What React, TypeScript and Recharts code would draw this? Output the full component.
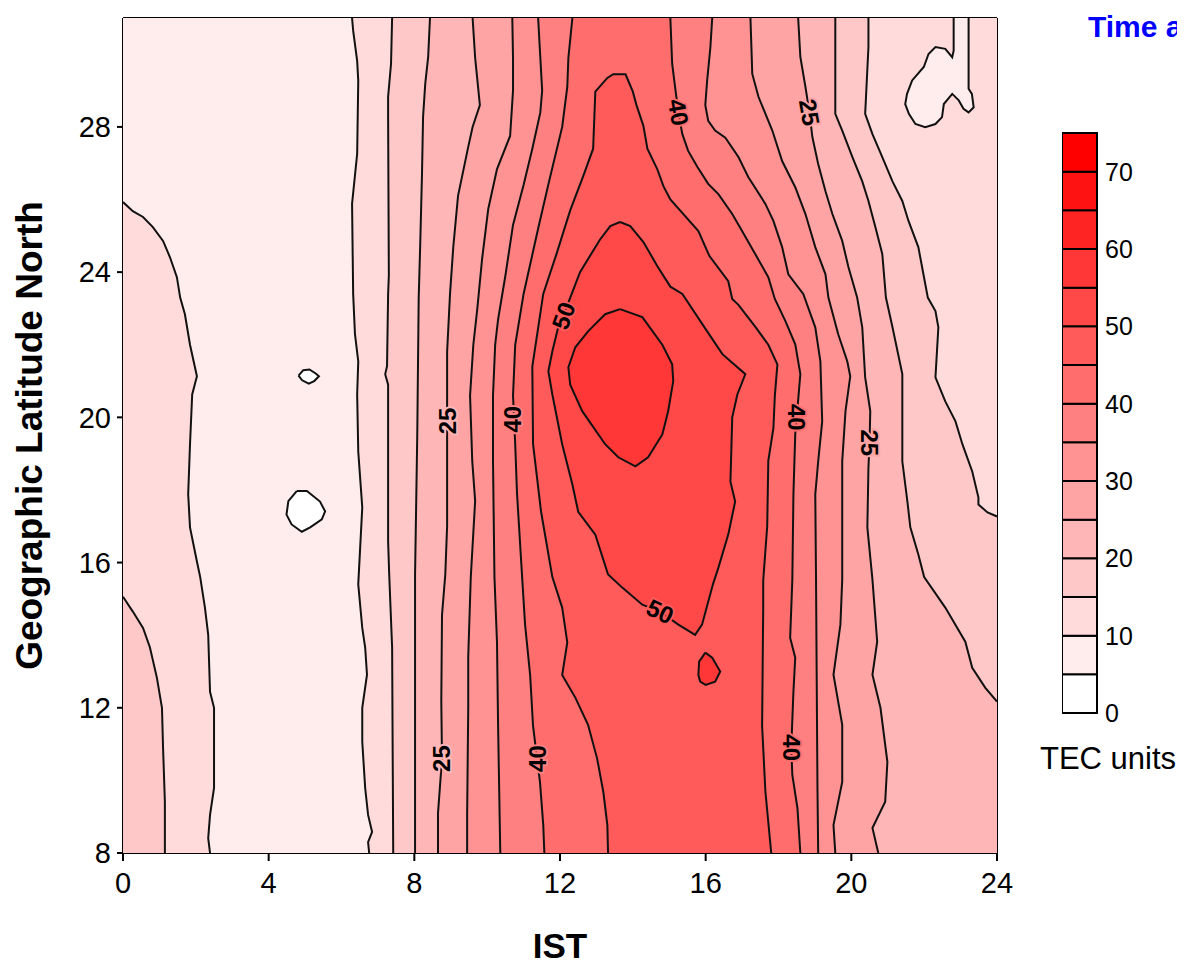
import { Bar, BarChart, ComposedChart, Scatter, XAxis, YAxis } from "recharts"

type Pt = [number, number]

const FONT = '"Liberation Sans", Arial, sans-serif'

// fill colour of each 5 TEC unit band, 0-5 up to 70-75
const bandColors = [
  "#FFFFFF", "#FFEDED", "#FFDBDB", "#FFC8C8", "#FFB6B6", "#FFA4A4", "#FF9292", "#FF8080",
  "#FF6D6D", "#FF5B5B", "#FF4949", "#FF3737", "#FF2424", "#FF1212", "#FF0000",
]
const bandEdges = [0, 5, 10, 15, 20, 25, 30, 35, 40, 45, 50, 55, 60, 65, 70, 75]
const colorbarTicks = [0, 10, 20, 30, 40, 50, 60, 70]

const xTicks = [0, 4, 8, 12, 16, 20, 24]
const topTicks = [0, 2, 4, 6, 8, 10, 12, 14, 16, 18, 20, 22, 24]
const yTicks = [8, 12, 16, 20, 24, 28]
const rightTicks = [8, 10, 12, 14, 16, 18, 20, 22, 24, 26, 28, 30]

// contour lines, [IST hour, latitude]
const c10Left: Pt[] = [[0, 25.93], [0.27, 25.68], [0.55, 25.52], [0.82, 25.24], [1.1, 24.86], [1.29, 24.41], [1.48, 23.86], [1.57, 23.3], [1.7, 22.84], [1.84, 22.0], [2.03, 21.13], [1.9, 20.63], [1.84, 19.26], [1.79, 17.88], [1.84, 16.97], [2.03, 16.03], [2.12, 15.6], [2.25, 14.76], [2.34, 14.01], [2.39, 12.44], [2.5, 12.0], [2.5, 9.79], [2.39, 9.05], [2.34, 8.41], [2.39, 8]]
const c15Left: Pt[] = [[0, 15.06], [0.27, 14.65], [0.55, 14.2], [0.74, 13.66], [0.93, 12.83], [1.07, 12.0], [1.1, 10.9], [1.15, 9.41], [1.15, 8]]
const c10Mid: Pt[] = [[6.76, 8], [6.73, 8.3], [6.84, 8.58], [6.73, 9.05], [6.65, 9.79], [6.57, 11.06], [6.57, 12.0], [6.7, 12.91], [6.65, 13.66], [6.57, 14.2], [6.46, 15.4], [6.57, 17.52], [6.46, 19.06], [6.43, 20.63], [6.46, 21.54], [6.37, 22.29], [6.32, 23.4], [6.29, 25.88], [6.43, 27.26], [6.46, 29.27], [6.43, 29.82], [6.32, 30.65], [6.29, 31]]
const c15Mid: Pt[] = [[7.42, 8], [7.39, 13.66], [7.31, 15.67], [7.28, 16.58], [7.28, 20.9], [7.2, 21.19], [7.25, 21.41], [7.28, 23.4], [7.3, 23.9], [7.28, 28.28], [7.28, 28.83], [7.36, 29.74], [7.39, 31]]
const c20Mid: Pt[] = [[8.02, 8], [8.02, 15.67], [8.08, 19.5], [8.12, 23.3], [8.16, 24.7], [8.21, 26.7], [8.24, 28.28], [8.3, 29.19], [8.38, 29.93], [8.43, 31]]
const c25Left: Pt[] = [[8.65, 8], [8.65, 9.1], [8.76, 10.6], [8.74, 12.17], [8.76, 14.56], [8.85, 15.67], [8.9, 17.0], [8.9, 19.06], [8.9, 21.8], [8.98, 23.4], [9.07, 24.7], [9.2, 26.1], [9.48, 27.45], [9.6, 28.0], [9.8, 28.6], [9.67, 29.9], [9.6, 31]]
const c30Left: Pt[] = [[9.45, 8], [9.45, 9.05], [9.48, 12.0], [9.48, 13.4], [9.55, 15.6], [9.67, 17.7], [9.59, 18.8], [9.53, 20.6], [9.62, 22.0], [9.73, 23.0], [9.86, 24.36], [10.03, 25.74], [10.27, 26.84], [10.63, 27.75], [10.71, 29.0], [10.71, 29.9], [10.69, 31]]
const c35Left: Pt[] = [[10.36, 8], [10.3, 11.5], [10.27, 13.8], [10.2, 15.6], [10.16, 18.8], [10.16, 20.6], [10.22, 22.0], [10.3, 22.7], [10.5, 23.9], [10.71, 25.3], [11.0, 26.4], [11.24, 27.4], [11.46, 28.4], [11.51, 29.0], [11.46, 29.9], [11.4, 31]]
const c40Left: Pt[] = [[11.57, 8], [11.54, 8.77], [11.45, 9.96], [11.37, 10.6], [11.26, 11.5], [11.18, 12.9], [11.04, 14.3], [10.96, 15.6], [10.82, 17.9], [10.77, 19.26], [10.71, 20.6], [10.77, 22.0], [11.0, 23.4], [11.4, 25.2], [11.7, 26.5], [12.06, 28.0], [12.2, 29.1], [12.23, 29.9], [12.34, 31]]
const c45: Pt[] = [[13.32, 8], [13.3, 8.77], [13.19, 9.68], [13.02, 10.6], [12.77, 11.53], [12.42, 12.28], [12.06, 12.9], [12.2, 13.8], [12.06, 14.76], [11.79, 15.6], [11.48, 17.4], [11.26, 19.26], [11.24, 21.4], [11.54, 23.4], [11.92, 24.55], [12.28, 25.7], [12.64, 26.65], [12.91, 27.4], [12.97, 28.97], [13.3, 29.35], [13.46, 29.45], [13.8, 29.45], [14.0, 28.97], [14.1, 28.6], [14.29, 28.03], [14.4, 27.4], [14.67, 26.84], [14.84, 26.37], [15.03, 26.0], [15.8, 25.13], [16.1, 24.45], [16.62, 23.75], [16.73, 23.26], [16.9, 23.1], [17.36, 22.5], [17.72, 22.0], [17.97, 21.46], [17.9, 20.6], [17.86, 19.7], [17.72, 18.8], [17.69, 17.0], [17.58, 15.5], [17.58, 14.76], [17.55, 11.5], [17.64, 9.7], [17.8, 8]]
const c50: Pt[] = [[13.65, 25.38], [13.38, 25.27], [13.1, 24.9], [12.55, 24.0], [12.34, 23.45], [12.09, 22.8], [11.95, 22.48], [11.79, 21.82], [11.68, 21.27], [11.79, 20.63], [12.06, 19.26], [12.34, 18.15], [12.5, 17.4], [12.97, 16.77], [13.32, 15.67], [13.71, 15.31], [14.26, 14.84], [14.75, 14.65], [15.25, 14.29], [15.71, 14.01], [15.9, 14.29], [16.2, 15.4], [16.35, 15.86], [16.62, 16.77], [16.81, 17.68], [16.68, 18.23], [16.73, 20.0], [16.87, 20.63], [17.09, 21.19], [16.46, 21.74], [16.0, 22.43], [15.36, 23.4], [15.03, 23.6], [14.67, 24.17], [14.29, 24.83], [13.93, 25.27]]
const c55: Pt[] = [[13.65, 22.98], [14.26, 22.76], [14.81, 22.0], [15.08, 21.46], [15.11, 21.0], [14.97, 20.17], [14.81, 19.53], [14.42, 18.9], [14.07, 18.65], [13.6, 18.9], [13.24, 19.26], [12.61, 20.17], [12.28, 20.9], [12.23, 21.38], [12.42, 21.93], [12.77, 22.37], [13.24, 22.84]]
const c55Small: Pt[] = [[15.99, 13.52], [16.18, 13.38], [16.4, 13.0], [16.26, 12.72], [16.0, 12.63], [15.85, 12.72], [15.8, 12.9], [15.82, 13.27]]
const c40Right: Pt[] = [[15.03, 31], [15.08, 29.74], [15.16, 29.1], [15.25, 28.4], [15.36, 27.8], [15.52, 27.34], [15.77, 26.9], [16.07, 26.43], [16.35, 26.15], [16.73, 25.6], [17.0, 25.13], [17.36, 24.5], [17.72, 23.86], [17.9, 23.26], [18.19, 22.65], [18.46, 22.01], [18.6, 21.19], [18.5, 20.0], [18.46, 19.53], [18.41, 17.88], [18.38, 15.53], [18.32, 13.93], [18.46, 13.38], [18.41, 12.44], [18.35, 10.9], [18.38, 10.15], [18.52, 9.24], [18.6, 8]]
const c35Right: Pt[] = [[16.18, 31], [16.13, 30.2], [16.04, 29.27], [15.99, 28.6], [16.07, 28.17], [16.26, 27.9], [16.54, 27.7], [16.9, 27.17], [17.17, 26.62], [17.64, 25.88], [17.86, 25.41], [18.1, 24.69], [18.27, 23.94], [18.68, 23.4], [19.01, 22.48], [19.15, 21.54], [19.2, 19.89], [19.09, 18.79], [19.01, 17.88], [19.03, 15.6], [19.07, 9.79], [19.09, 8]]
const c30Right: Pt[] = [[17.23, 31], [17.28, 29.46], [17.45, 28.83], [17.83, 27.9], [18.1, 27.06], [18.46, 26.34], [18.74, 25.6], [19.01, 24.69], [19.29, 23.94], [19.37, 23.3], [19.64, 22.29], [19.89, 21.54], [19.97, 21.13], [19.84, 20.17], [19.75, 18.79], [19.75, 15.53], [19.7, 14.29], [19.51, 12.91], [19.75, 11.53], [19.75, 9.96], [19.51, 8.77], [19.56, 8]]
const c25Right: Pt[] = [[18.54, 31], [18.6, 29.93], [18.74, 29.1], [18.85, 28.4], [18.93, 27.72], [19.09, 26.98], [19.29, 26.23], [19.48, 25.6], [19.75, 24.86], [19.92, 24.14], [20.16, 23.3], [20.3, 22.48], [20.38, 21.1], [20.52, 20.17], [20.5, 19.3], [20.47, 18.62], [20.44, 16.97], [20.58, 15.53], [20.71, 13.82], [20.58, 12.91], [20.8, 12.0], [20.99, 10.51], [20.93, 9.41], [20.58, 8.69], [20.74, 8]]
const c20Right: Pt[] = [[19.56, 31], [19.56, 28.36], [19.75, 27.9], [20.03, 27.17], [20.3, 26.5], [20.47, 25.96], [20.66, 25.24], [20.85, 24.5], [20.95, 23.3], [21.13, 22.48], [21.4, 21.19], [21.4, 18.79], [21.54, 17.68], [21.62, 16.97], [21.84, 16.22], [22.0, 15.6], [22.58, 14.76], [23.13, 13.82], [23.32, 13.1], [23.68, 12.55], [24, 12.17]]
const c15Right: Pt[] = [[20.47, 31], [20.47, 30.2], [20.38, 28.36], [20.58, 27.8], [20.85, 27.17], [21.13, 26.5], [21.4, 25.96], [21.57, 25.41], [21.84, 24.69], [22.1, 23.3], [22.31, 22.93], [22.39, 22.48], [22.31, 21.1], [22.58, 20.44], [22.86, 19.89], [23.05, 19.26], [23.32, 18.51], [23.49, 17.79], [23.49, 17.6], [23.74, 17.38], [24, 17.27]]
const c10TopRight: Pt[] = [[22.81, 31], [22.81, 30.1], [22.77, 29.92], [22.58, 30.15], [22.31, 30.2], [22.12, 30.01], [21.99, 29.65], [21.67, 29.28], [21.53, 28.91], [21.48, 28.63], [21.58, 28.36], [21.76, 28.08], [22.03, 27.99], [22.31, 28.08], [22.49, 28.27], [22.54, 28.63], [22.77, 28.91], [22.95, 28.73], [23.08, 28.5], [23.22, 28.4], [23.36, 28.54], [23.31, 28.91], [23.22, 29.05], [23.22, 31]]
const c5Small: Pt[] = [[4.82, 21.15], [4.95, 21.3], [5.12, 21.32], [5.3, 21.2], [5.38, 21.13], [5.25, 21.0], [5.1, 20.93], [4.92, 21.02]]
const c5Round: Pt[] = [[4.77, 17.97], [5.05, 17.97], [5.41, 17.68], [5.55, 17.41], [5.46, 17.19], [5.14, 16.97], [4.91, 16.85], [4.63, 17.05], [4.49, 17.32], [4.54, 17.69]]

// contour value labels
const contourLabels = [
  { x: 8.9, y: 19.9, text: "25", angle: -90, band: 4 },
  { x: 8.76, y: 10.6, text: "25", angle: -90, band: 4 },
  { x: 10.7, y: 19.95, text: "40", angle: -90, band: 7 },
  { x: 11.37, y: 10.6, text: "40", angle: -90, band: 7 },
  { x: 12.1, y: 22.8, text: "50", angle: -70, band: 9 },
  { x: 14.75, y: 14.65, text: "50", angle: 25, band: 9 },
  { x: 15.25, y: 28.4, text: "40", angle: 80, band: 8 },
  { x: 18.85, y: 28.4, text: "25", angle: 80, band: 5 },
  { x: 18.5, y: 20.0, text: "40", angle: 90, band: 8 },
  { x: 20.5, y: 19.3, text: "25", angle: 90, band: 5 },
  { x: 18.35, y: 10.9, text: "40", angle: 90, band: 8 },
]

const rows = (pts: Pt[]) => pts.map(([x, y]) => ({ x, y }))
const closeLoop = (pts: Pt[]): Pt[] => [...pts, pts[0]]

// filled areas, painted from the lowest level up
const regions: { pts: Pt[]; band: number }[] = [
  { pts: [[0, 8], [0, 31], [24, 31], [24, 8]], band: 1 },
  { pts: c5Small, band: 0 },
  { pts: c5Round, band: 0 },
  { pts: [[0, 8], ...c10Left], band: 2 },
  { pts: [...c10Mid, [24, 31], [24, 8]], band: 2 },
  { pts: c10TopRight, band: 1 },
  { pts: [[0, 8], ...c15Left], band: 3 },
  { pts: [...c15Mid, ...c15Right, [24, 8]], band: 3 },
  { pts: [...c20Mid, ...c20Right, [24, 8]], band: 4 },
  { pts: [...c25Left, ...c25Right], band: 5 },
  { pts: [...c30Left, ...c30Right], band: 6 },
  { pts: [...c35Left, ...c35Right], band: 7 },
  { pts: [...c40Left, ...c40Right], band: 8 },
  { pts: c45, band: 9 },
  { pts: c50, band: 10 },
  { pts: c55, band: 11 },
  { pts: c55Small, band: 11 },
]

const contourLines: Pt[][] = [
  c10Left, c15Left, c10Mid, c15Mid, c20Mid, c25Left, c30Left, c35Left, c40Left, c45,
  closeLoop(c50), closeLoop(c55), closeLoop(c55Small),
  c40Right, c35Right, c30Right, c25Right, c20Right, c15Right, c10TopRight,
  closeLoop(c5Small), closeLoop(c5Round),
]

const colorbarRow: Record<string, number | string> = { name: "TEC" }
bandColors.forEach((_, i) => {
  colorbarRow[`b${i}`] = bandEdges[i + 1] - bandEdges[i]
})

const NoDot = () => null

const LabelShape = (props: any) => {
  const { cx, cy, payload } = props
  return (
    <text
      x={cx}
      y={cy}
      transform={`rotate(${payload.angle} ${cx} ${cy})`}
      textAnchor="middle"
      dominantBaseline="central"
      fontSize={24}
      fontWeight="bold"
      fill="#000"
      stroke={bandColors[payload.band]}
      strokeWidth={4}
      paintOrder="stroke"
      fontFamily={FONT}
    >
      {payload.text}
    </text>
  )
}

const renderYTitle = (props: any) => {
  const vb = props.viewBox ?? { x: 0, y: 10, width: 115, height: 835 }
  const x = vb.x + 21
  const y = vb.y + vb.height / 2
  return (
    <text
      x={x}
      y={y}
      transform={`rotate(-90 ${x} ${y})`}
      textAnchor="middle"
      dominantBaseline="central"
      fontSize={37}
      fontWeight="bold"
      fill="#000"
    >
      Geographic Latitude North
    </text>
  )
}

const frame = { stroke: "#000", strokeWidth: 2 }

export default function App() {
  return (
    <div
      style={{
        position: "relative",
        width: 1177,
        height: 958,
        overflow: "hidden",
        fontFamily: FONT,
        background: "#fff",
      }}
    >
      <ComposedChart width={1030} height={958} margin={{ top: 0, right: 30, bottom: 0, left: 0 }}>
        <XAxis
          xAxisId="top"
          orientation="top"
          type="number"
          domain={[0, 24]}
          ticks={topTicks}
          tick={false}
          tickSize={10}
          height={10}
          axisLine={frame}
          tickLine={frame}
        />
        <XAxis
          type="number"
          dataKey="x"
          domain={[0, 24]}
          ticks={xTicks}
          allowDataOverflow
          height={113}
          tickSize={8}
          tickMargin={11}
          axisLine={frame}
          tickLine={frame}
          tick={{ fontSize: 29, fill: "#000" }}
          label={{ value: "IST", position: "insideBottom", offset: 8, fontSize: 35, fontWeight: "bold", fill: "#000" }}
        />
        <YAxis
          type="number"
          dataKey="y"
          domain={[8, 31]}
          ticks={yTicks}
          allowDataOverflow
          width={115}
          tickSize={6}
          tickMargin={6}
          axisLine={frame}
          tickLine={frame}
          tick={{ fontSize: 29, fill: "#000" }}
          label={renderYTitle}
        />
        <YAxis
          yAxisId="right"
          orientation="right"
          type="number"
          domain={[8, 31]}
          ticks={rightTicks}
          tick={false}
          tickSize={10}
          width={11}
          axisLine={frame}
          tickLine={frame}
        />
        {regions.map((r, i) => (
          <Scatter
            key={`region-${i}`}
            data={rows(r.pts)}
            line={{ fill: bandColors[r.band], stroke: "none" }}
            shape={NoDot}
            isAnimationActive={false}
          />
        ))}
        {contourLines.map((pts, i) => (
          <Scatter
            key={`contour-${i}`}
            data={rows(pts)}
            line={{ fill: "none", stroke: "#111", strokeWidth: 2 }}
            shape={NoDot}
            isAnimationActive={false}
          />
        ))}
        <Scatter data={contourLabels} shape={LabelShape} isAnimationActive={false} />
      </ComposedChart>

      <div style={{ position: "absolute", left: 1054, top: 105 }}>
        <BarChart
          width={115}
          height={620}
          data={[colorbarRow]}
          margin={{ top: 20, right: 0, bottom: 20, left: 0 }}
          barCategoryGap={0}
        >
          <XAxis dataKey="name" hide />
          <YAxis
            orientation="right"
            type="number"
            domain={[0, 75]}
            ticks={colorbarTicks}
            width={80}
            axisLine={false}
            tickLine={false}
            tick={{ fontSize: 25, fill: "#000" }}
          />
          {bandColors.map((c, i) => (
            <Bar
              key={`band-${i}`}
              dataKey={`b${i}`}
              stackId="cb"
              fill={c}
              stroke="#000"
              strokeWidth={2}
              isAnimationActive={false}
            />
          ))}
        </BarChart>
      </div>

      <div style={{ position: "absolute", left: 1032, top: 733, fontSize: 31, color: "#000", whiteSpace: "nowrap" }}>
        TEC units
      </div>
      <div
        style={{
          position: "absolute",
          left: 1080,
          top: 2,
          fontSize: 30,
          fontWeight: "bold",
          color: "#0000FF",
          whiteSpace: "nowrap",
        }}
      >
        Time a
      </div>
    </div>
  )
}
